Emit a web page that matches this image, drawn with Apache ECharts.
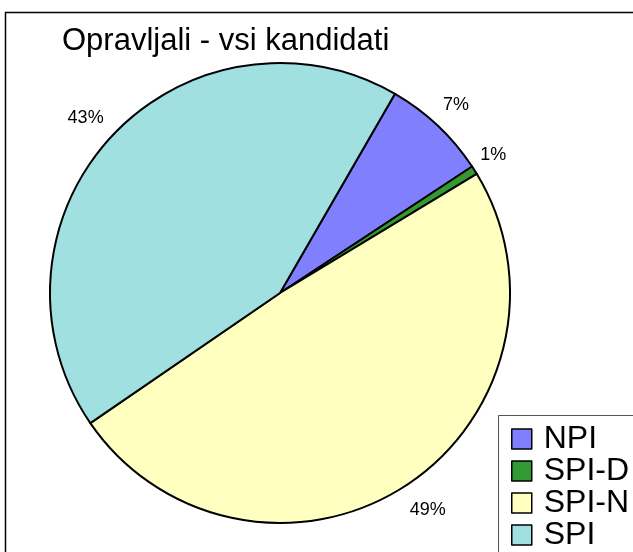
<!DOCTYPE html>
<html>
<head>
<meta charset="utf-8">
<script src="https://cdn.jsdelivr.net/npm/echarts@6/dist/echarts.min.js"></script>
<style>
html,body{margin:0;padding:0;background:#fff;}
#chart{width:633px;height:552px;}
</style>
</head>
<body>
<div id="chart"></div>
<script>
const titleText = 'Opravljali - vsi kandidati';
const categories = ['NPI', 'SPI-D', 'SPI-N', 'SPI'];
const values = [7.4, 0.6, 49.1, 42.9];
const colors = ['#8080FF', '#339933', '#FFFFC0', '#A0E0E0'];
// label placement tweaks (style, not data)
const labelLen2 = [-14, -18, -10, -13];

const chart = echarts.init(document.getElementById('chart'), null, {renderer: 'canvas'});
const FONT = '"Liberation Sans", Arial, sans-serif';

const option = {
  backgroundColor: '#fff',
  animation: false,
  title: {
    text: titleText,
    left: 62,
    top: 26,
    padding: 0,
    textStyle: {fontFamily: FONT, fontSize: 31, fontWeight: 'normal', color: '#000'}
  },
  graphic: [{
    type: 'rect',
    shape: {x: 5.5, y: 12.5, width: 700, height: 700},
    style: {fill: 'none', stroke: '#000', lineWidth: 1.5},
    silent: true,
    z: -1
  }, {
    type: 'rect',
    shape: {x: 498.5, y: 415.5, width: 300, height: 300},
    style: {fill: '#fff', stroke: '#555', lineWidth: 1},
    silent: true,
    z: 0
  }],
  legend: {
    orient: 'vertical',
    left: 511,
    top: 423,
    padding: 0,
    itemGap: 0,
    itemWidth: 20,
    itemHeight: 20,
    icon: 'rect',
    z: 5,
    itemStyle: {borderColor: '#000', borderWidth: 1.5},
    textStyle: {fontFamily: FONT, fontSize: 32, color: '#000', lineHeight: 32, padding: [0, 0, 0, 7]},
    data: categories
  },
  series: [{
    type: 'pie',
    center: [280, 293],
    radius: [0, 230],
    startAngle: 60,
    clockwise: true,
    avoidLabelOverlap: false,
    itemStyle: {borderColor: '#000', borderWidth: 2},
    label: {
      show: true,
      position: 'outside',
      distanceToLabelLine: 0,
      fontFamily: FONT,
      fontSize: 18,
      color: '#000',
      formatter: p => Math.round(p.percent) + '%'
    },
    labelLine: {show: false, length: 28, length2: -13},
    emphasis: {disabled: true},
    data: categories.map((c, i) => ({
      name: c,
      value: values[i],
      itemStyle: {color: colors[i]},
      labelLine: {show: false, length: 28, length2: labelLen2[i]}
    }))
  }]
};
chart.setOption(option);
</script>
</body>
</html>
